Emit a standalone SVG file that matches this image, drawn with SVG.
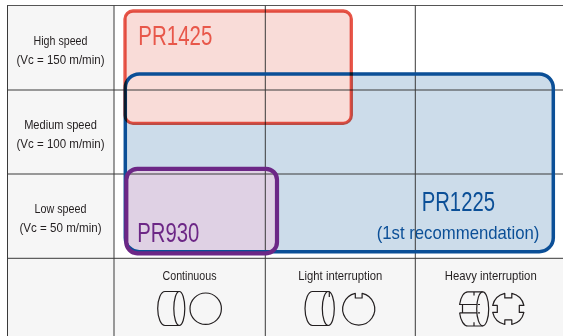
<svg xmlns="http://www.w3.org/2000/svg" width="563" height="336" viewBox="0 0 563 336">
<style>
.lbl{font-family:"Liberation Sans","DejaVu Sans",sans-serif;font-size:13.5px;fill:#231f20;text-anchor:middle}
.big{font-family:"Liberation Sans","DejaVu Sans",sans-serif;font-size:27.5px}
.grid{stroke:#3a3a3a;stroke-width:1;fill:none}
.ico{fill:none;stroke:#231f20;stroke-width:1.2;stroke-linejoin:round}
</style>
<rect width="563" height="336" fill="#ffffff"/>
<rect x="7" y="6" width="107" height="330" fill="#f6f6f6"/>
<rect x="114" y="258" width="449" height="78" fill="#f6f6f6"/>

<g id="fills">
<rect x="125.3" y="74" width="428" height="177.7" rx="14" fill="#ccdcea"/>
<rect x="125" y="11" width="226.3" height="112.3" rx="8" fill="#f9dcd8"/>
<rect x="126.3" y="168.8" width="150.7" height="84.5" rx="11" fill="#dfd1e4"/>
</g>

<g id="box-text">
<text class="big" x="138.3" y="45.3" textLength="74" lengthAdjust="spacingAndGlyphs" fill="#e8574a">PR1425</text>
<text class="big" x="137.3" y="242.3" textLength="62" lengthAdjust="spacingAndGlyphs" fill="#6c2786">PR930</text>
<text class="big" x="421.7" y="211" textLength="73.3" lengthAdjust="spacingAndGlyphs" fill="#0b4f97">PR1225</text>
<text x="376.7" y="239" textLength="162.7" lengthAdjust="spacingAndGlyphs" fill="#0b4f97" style="font-family:'Liberation Sans','DejaVu Sans',sans-serif;font-size:18.5px">(1st recommendation)</text>
</g>

<g id="connectors" class="grid">
<line x1="7" y1="5.5" x2="563" y2="5.5" stroke="#555"/>
<line x1="7" y1="90" x2="563" y2="90"/>
<line x1="7" y1="174" x2="563" y2="174"/>
<line x1="7" y1="258.3" x2="563" y2="258.3"/>
<line x1="7.5" y1="5.5" x2="7.5" y2="336"/>
<line x1="114" y1="5.5" x2="114" y2="336"/>
<line x1="265.3" y1="5.5" x2="265.3" y2="336"/>
<line x1="415.3" y1="5.5" x2="415.3" y2="336"/>
</g>

<g id="PR1225">
<rect x="125.3" y="74" width="428" height="177.7" rx="14" fill="none" stroke="#0b4f97" stroke-width="3.5"/>
</g>
<g id="PR1425">
<rect x="125" y="11" width="226.3" height="112.3" rx="8" fill="none" stroke="#e8574a" stroke-width="3.3" style="mix-blend-mode:multiply"/>
</g>
<g id="PR930">
<rect x="126.3" y="168.8" width="150.7" height="84.5" rx="11" fill="none" stroke="#6c2786" stroke-width="4.2"/>
</g>

<g id="row-high">
<text class="lbl" x="60.5" y="45" textLength="54" lengthAdjust="spacingAndGlyphs">High speed</text>
<text class="lbl" x="60.5" y="64.3" textLength="88" lengthAdjust="spacingAndGlyphs">(Vc = 150 m/min)</text>
</g>
<g id="row-medium">
<text class="lbl" x="60.5" y="128.8" textLength="72.7" lengthAdjust="spacingAndGlyphs">Medium speed</text>
<text class="lbl" x="60.5" y="147.8" textLength="88" lengthAdjust="spacingAndGlyphs">(Vc = 100 m/min)</text>
</g>
<g id="row-low">
<text class="lbl" x="60.5" y="213.2" textLength="52" lengthAdjust="spacingAndGlyphs">Low speed</text>
<text class="lbl" x="60.5" y="231.7" textLength="82" lengthAdjust="spacingAndGlyphs">(Vc = 50 m/min)</text>
</g>

<g id="col-continuous">
<text class="lbl" x="189.5" y="280.3" textLength="54" lengthAdjust="spacingAndGlyphs">Continuous</text>
<path class="ico" d="M179.3 291.5 L165 291.5 A7.3 17 0 0 0 165 325.5 L179.3 325.5"/>
<ellipse class="ico" cx="179.3" cy="308.5" rx="5.5" ry="17"/>
<circle class="ico" cx="205.7" cy="308.7" r="15.7"/>
</g>

<g id="col-light">
<text class="lbl" x="340.3" y="280.3" textLength="84" lengthAdjust="spacingAndGlyphs">Light interruption</text>
<path class="ico" d="M328.3 291.5 L312.5 291.5 A7.5 17 0 0 0 312.5 325.5 L328.3 325.5"/>
<ellipse class="ico" cx="328.3" cy="308.5" rx="6" ry="17"/>
<path class="ico" d="M329.3 291.6 L329.3 297"/>
<path class="ico" d="M362.1 293.4 A16 16 0 1 1 355.3 293.4 L355.3 298 L362.1 298 Z"/>
</g>

<g id="col-heavy">
<text class="lbl" x="490.7" y="280.3" textLength="92" lengthAdjust="spacingAndGlyphs">Heavy interruption</text>
<path class="ico" d="M482.7 291.8 L468 291.8 A8.5 17 0 0 0 459.6 304.5 L477 304.5 M459.6 312.8 A8.5 17 0 0 0 468 326 L482.7 326 M459.6 312.8 L477 312.8 M462.5 304.5 L462.5 312.8"/>
<ellipse class="ico" cx="482.7" cy="308.9" rx="6" ry="17"/>
<path class="ico" d="M474 292 L474 295.5 M474 322.3 L474 326 M478 304.5 L480 304.5 M478 312.8 L480 312.8"/>
<path class="ico" d="M511.8 293.3 A16 16 0 0 1 523.9 305.4 L519.3 305.4 L519.3 312.4 L523.9 312.4 A16 16 0 0 1 511.8 324.5 L511.8 319.9 L504.8 319.9 L504.8 324.5 A16 16 0 0 1 492.7 312.4 L497.3 312.4 L497.3 305.4 L492.7 305.4 A16 16 0 0 1 504.8 293.3 L504.8 297.9 L511.8 297.9 Z"/>
</g>
</svg>
